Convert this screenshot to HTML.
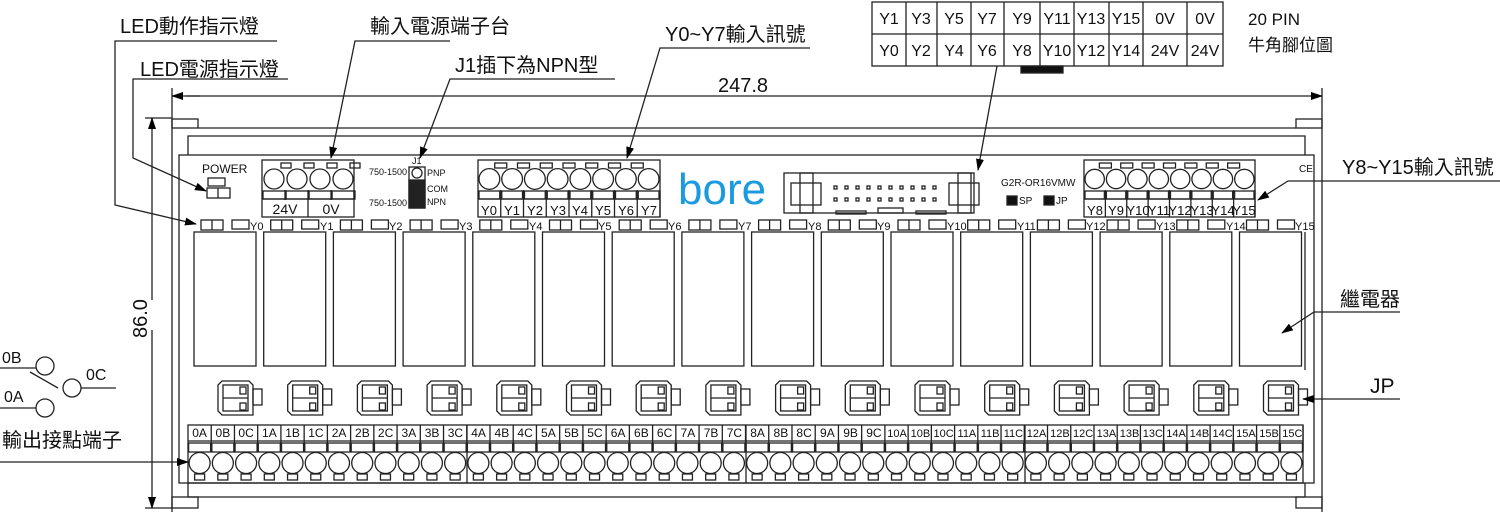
<!DOCTYPE html>
<html><head><meta charset="utf-8"><style>
html,body{margin:0;padding:0;background:#fff;}
svg{display:block;font-family:"Liberation Sans","Noto Sans CJK TC",sans-serif;}
</style></head><body>
<svg id="s" width="1500" height="520" viewBox="0 0 1500 520" xmlns="http://www.w3.org/2000/svg">
<defs><marker id="a" markerWidth="12" markerHeight="8" refX="11" refY="4" orient="auto" markerUnits="userSpaceOnUse"><path d="M0,0 L12,4 L0,8 Z" fill="#000"/></marker></defs>
<g id="g" fill="none" stroke="#222" stroke-width="1.3"></g>
<g fill="#111" font-size="20">
<text x="120" y="33">LED動作指示燈</text>
<text x="140" y="76">LED電源指示燈</text>
<text x="370" y="33">輸入電源端子台</text>
<text x="455" y="72">J1插下為NPN型</text>
<text x="665" y="41">Y0~Y7輸入訊號</text>
<text x="1342" y="174">Y8~Y15輸入訊號</text>
<text x="1340" y="306">繼電器</text>
<text x="1370" y="393" font-size="21">JP</text>
<text x="2" y="447">輸出接點端子</text>
<text x="2" y="363" font-size="16">0B</text>
<text x="86" y="380" font-size="16">0C</text>
<text x="4" y="402" font-size="16">0A</text>
<text x="1248" y="25" font-size="17">20 PIN</text>
<text x="1248" y="51" font-size="17">牛角腳位圖</text>
<text x="718" y="92" font-size="20">247.8</text>
<text transform="translate(147,338) rotate(-90)" font-size="20">86.0</text>
</g>
<g fill="#111" font-size="16" text-anchor="middle">
<text x="889" y="24">Y1</text><text x="921" y="24">Y3</text><text x="954" y="24">Y5</text><text x="987" y="24">Y7</text><text x="1022" y="24">Y9</text><text x="1057" y="24">Y11</text><text x="1091" y="24">Y13</text><text x="1126" y="24">Y15</text><text x="1165" y="24">0V</text><text x="1205" y="24">0V</text>
<text x="889" y="56">Y0</text><text x="921" y="56">Y2</text><text x="954" y="56">Y4</text><text x="987" y="56">Y6</text><text x="1022" y="56">Y8</text><text x="1057" y="56">Y10</text><text x="1091" y="56">Y12</text><text x="1126" y="56">Y14</text><text x="1165" y="56">24V</text><text x="1205" y="56">24V</text>
</g>
<g fill="#111" font-size="12">
<text x="202" y="173">POWER</text>
<text x="1001" y="186" font-size="10">G2R-OR16VMW</text>
<text x="1019" y="204" font-size="10">SP</text>
<text x="1056" y="204" font-size="10">JP</text>
<text x="1299" y="172" font-size="10">CE</text>
<text x="412" y="164" font-size="9">J1</text>
<text x="407" y="175" font-size="9" text-anchor="end">750-1500</text>
<text x="407" y="206" font-size="9" text-anchor="end">750-1500</text>
<text x="427" y="176" font-size="9">PNP</text>
<text x="427" y="192" font-size="9">COM</text>
<text x="427" y="205" font-size="9">NPN</text>
<text x="285" y="214" font-size="14" text-anchor="middle">24V</text>
<text x="331" y="214" font-size="14" text-anchor="middle">0V</text>
</g>
<text x="678" y="204" font-size="44" fill="#1a9be0" font-family="Liberation Sans,sans-serif">bore</text>
<g fill="#111" font-size="13" text-anchor="middle">
<text x="489" y="215">Y0</text><text x="512" y="215">Y1</text><text x="535" y="215">Y2</text><text x="558" y="215">Y3</text><text x="580" y="215">Y4</text><text x="603" y="215">Y5</text><text x="626" y="215">Y6</text><text x="649" y="215">Y7</text>
<text x="1095" y="215">Y8</text><text x="1116" y="215">Y9</text><text x="1138" y="215">Y10</text><text x="1159" y="215">Y11</text><text x="1180" y="215">Y12</text><text x="1202" y="215">Y13</text><text x="1223" y="215">Y14</text><text x="1244" y="215">Y15</text>
</g>
<g fill="#111" font-size="11">
<text x="250" y="230">Y0</text><text x="320" y="230">Y1</text><text x="389" y="230">Y2</text><text x="459" y="230">Y3</text><text x="529" y="230">Y4</text><text x="598" y="230">Y5</text><text x="668" y="230">Y6</text><text x="738" y="230">Y7</text><text x="808" y="230">Y8</text><text x="877" y="230">Y9</text><text x="947" y="230">Y10</text><text x="1017" y="230">Y11</text><text x="1086" y="230">Y12</text><text x="1156" y="230">Y13</text><text x="1226" y="230">Y14</text><text x="1295" y="230">Y15</text>
</g>
<g fill="#111" font-size="12" text-anchor="middle">
<text x="199.6" y="437">0A</text><text x="222.9" y="437">0B</text><text x="246.1" y="437">0C</text><text x="269.4" y="437">1A</text><text x="292.6" y="437">1B</text><text x="315.9" y="437">1C</text><text x="339.1" y="437">2A</text><text x="362.4" y="437">2B</text><text x="385.6" y="437">2C</text><text x="408.9" y="437">3A</text><text x="432.1" y="437">3B</text><text x="455.4" y="437">3C</text>
<text x="478.6" y="437">4A</text><text x="501.9" y="437">4B</text><text x="525.1" y="437">4C</text><text x="548.4" y="437">5A</text><text x="571.6" y="437">5B</text><text x="594.9" y="437">5C</text><text x="618.1" y="437">6A</text><text x="641.4" y="437">6B</text><text x="664.6" y="437">6C</text><text x="687.9" y="437">7A</text><text x="711.1" y="437">7B</text><text x="734.4" y="437">7C</text>
<text x="757.6" y="437">8A</text><text x="780.9" y="437">8B</text><text x="804.1" y="437">8C</text><text x="827.4" y="437">9A</text><text x="850.6" y="437">9B</text><text x="873.9" y="437">9C</text><text x="897.1" y="437" font-size="11">10A</text><text x="920.4" y="437" font-size="11">10B</text><text x="943.6" y="437" font-size="11">10C</text><text x="966.9" y="437" font-size="11">11A</text><text x="990.1" y="437" font-size="11">11B</text><text x="1013.4" y="437" font-size="11">11C</text>
<text x="1036.6" y="437" font-size="11">12A</text><text x="1059.9" y="437" font-size="11">12B</text><text x="1083.1" y="437" font-size="11">12C</text><text x="1106.4" y="437" font-size="11">13A</text><text x="1129.6" y="437" font-size="11">13B</text><text x="1152.9" y="437" font-size="11">13C</text><text x="1176.1" y="437" font-size="11">14A</text><text x="1199.4" y="437" font-size="11">14B</text><text x="1222.6" y="437" font-size="11">14C</text><text x="1245.9" y="437" font-size="11">15A</text><text x="1269.1" y="437" font-size="11">15B</text><text x="1292.4" y="437" font-size="11">15C</text>
</g>
</svg>
<script>
var g=document.getElementById('g'),NS='http://www.w3.org/2000/svg';
function el(t,a){var e=document.createElementNS(NS,t);for(var k in a)e.setAttribute(k,a[k]);g.appendChild(e);return e;}
function L(x1,y1,x2,y2,m,w){var e=el('line',{x1:x1,y1:y1,x2:x2,y2:y2});if(m)e.setAttribute('marker-end','url(#a)');if(w)e.setAttribute('stroke-width',w);return e;}
function R(x,y,w,h,f){var e=el('rect',{x:x,y:y,width:w,height:h});if(f)e.setAttribute('fill',f);return e;}
function C(x,y,r){return el('circle',{cx:x,cy:y,r:r});}
function P(d,m){var e=el('path',{d:d});if(m)e.setAttribute('marker-end','url(#a)');return e;}
L(172,88,172,512);L(1322,88,1322,512);
L(185,96,1322,96,1);L(200,96,172,96,1);
L(145,118,172,118);L(145,508,172,508);L(152,300,152,118,1);L(152,330,152,508,1);
R(172,119,26,9);R(1296,119,26,9);L(198,128,1296,128);
P('M188,155 L188,136 L1305,136 L1305,155');
R(179,155,1135,328);
L(188,483,188,497);L(188,497,1305,497);L(1305,483,1305,497);R(172,497,26,11);R(1296,497,26,11);
R(208,178,17,8);R(207,188,23,10);L(218,188,218,198);
R(262,160,92,57);for(var i=0;i<4;i++){var cx=274+23*i;C(cx,179,10);R(cx+7,163,10,5);R(cx-11,191,23,8);L(cx+11,190,cx+11,200);}L(262,199,354,199);L(308,199,308,217);
R(409,167,16,41);R(409,180,16,28,'#222');C(417,173,5);
function blk(x0,w,n){R(x0,160,w,57);var p=w/n;for(var i=0;i<n;i++){var cx=x0+p*(i+.5);C(cx,179,p/2-1);if(i<n-1)R(cx+p/2-6,163,12,5);R(cx-p/2+1,191,p-2,8);L(x0+p*(i+1),190,x0+p*(i+1),217);}L(x0,199,x0+w,199);}
blk(478,182,8);blk(1084,171,8);
R(784,173,190,40);R(791,183,30,22);R(800,173,13,40);R(949,183,30,22);R(958,173,13,40);
for(var i=0;i<10;i++){R(834+11*i,186,3,3);R(834+11*i,198,3,3);}
R(836,211,30,3);R(878,208,25,5);R(916,211,30,3);
R(1007,196,10,9,'#111');R(1044,196,10,9,'#111');
for(var i=0;i<16;i++){var x=194+69.7*i;R(x,232,62,134);R(x+7,220,22,10);L(x+18,220,x+18,230);R(x+38,220,17,9);
var jx=x+24;P('M'+(jx+4)+',381 L'+(jx+31)+',381 L'+(jx+35)+',385 L'+(jx+35)+',415 L'+(jx+4)+',415 L'+jx+',411 L'+jx+',385 Z');L(jx+5,398,jx+30,398);R(jx+5,385,25,26);R(jx+22,387,6,7);R(jx+22,403,6,7);R(jx+35,389,9,16);}
L(1305,232,1305,370);
R(188,425,1115,58);L(188,441,1303,441);
for(var i=0;i<48;i++){var cx=188+23.23*(i+.5);C(cx,463,10.5);R(cx-5,474,10,6);R(cx-11,443,22,9);L(188+23.23*(i+1),425,188+23.23*(i+1),452);}
L(467,425,467,483);L(746,425,746,483);L(1025,425,1025,483);
R(872,2,351,64);L(872,34,1223,34);[906,937,971,1004,1040,1074,1109,1143,1187].forEach(function(x){L(x,2,x,66);});
R(1021,66,42,7,'#111');
P('M277,41 L115,41 L115,205 L196,224',1);
P('M288,79 L133,79 L133,158 L206,191',1);
P('M450,41 L355,41 L331,158',1);
P('M615,79 L450,79 L420,158',1);
P('M810,48 L660,48 L627,158',1);
L(997,66,978,170,1);
P('M1500,181 L1288,181 L1258,200',1);
P('M1400,312 L1314,312 L1282,333',1);
L(1400,399,1303,399,1);
L(0,462,188,462,1);
L(0,368,36,368);C(45,366,9);L(30,372,58,388);C(72,388,9);L(81,388,116,388);L(0,408,36,408);C(45,408,9);
</script>
</body></html>
